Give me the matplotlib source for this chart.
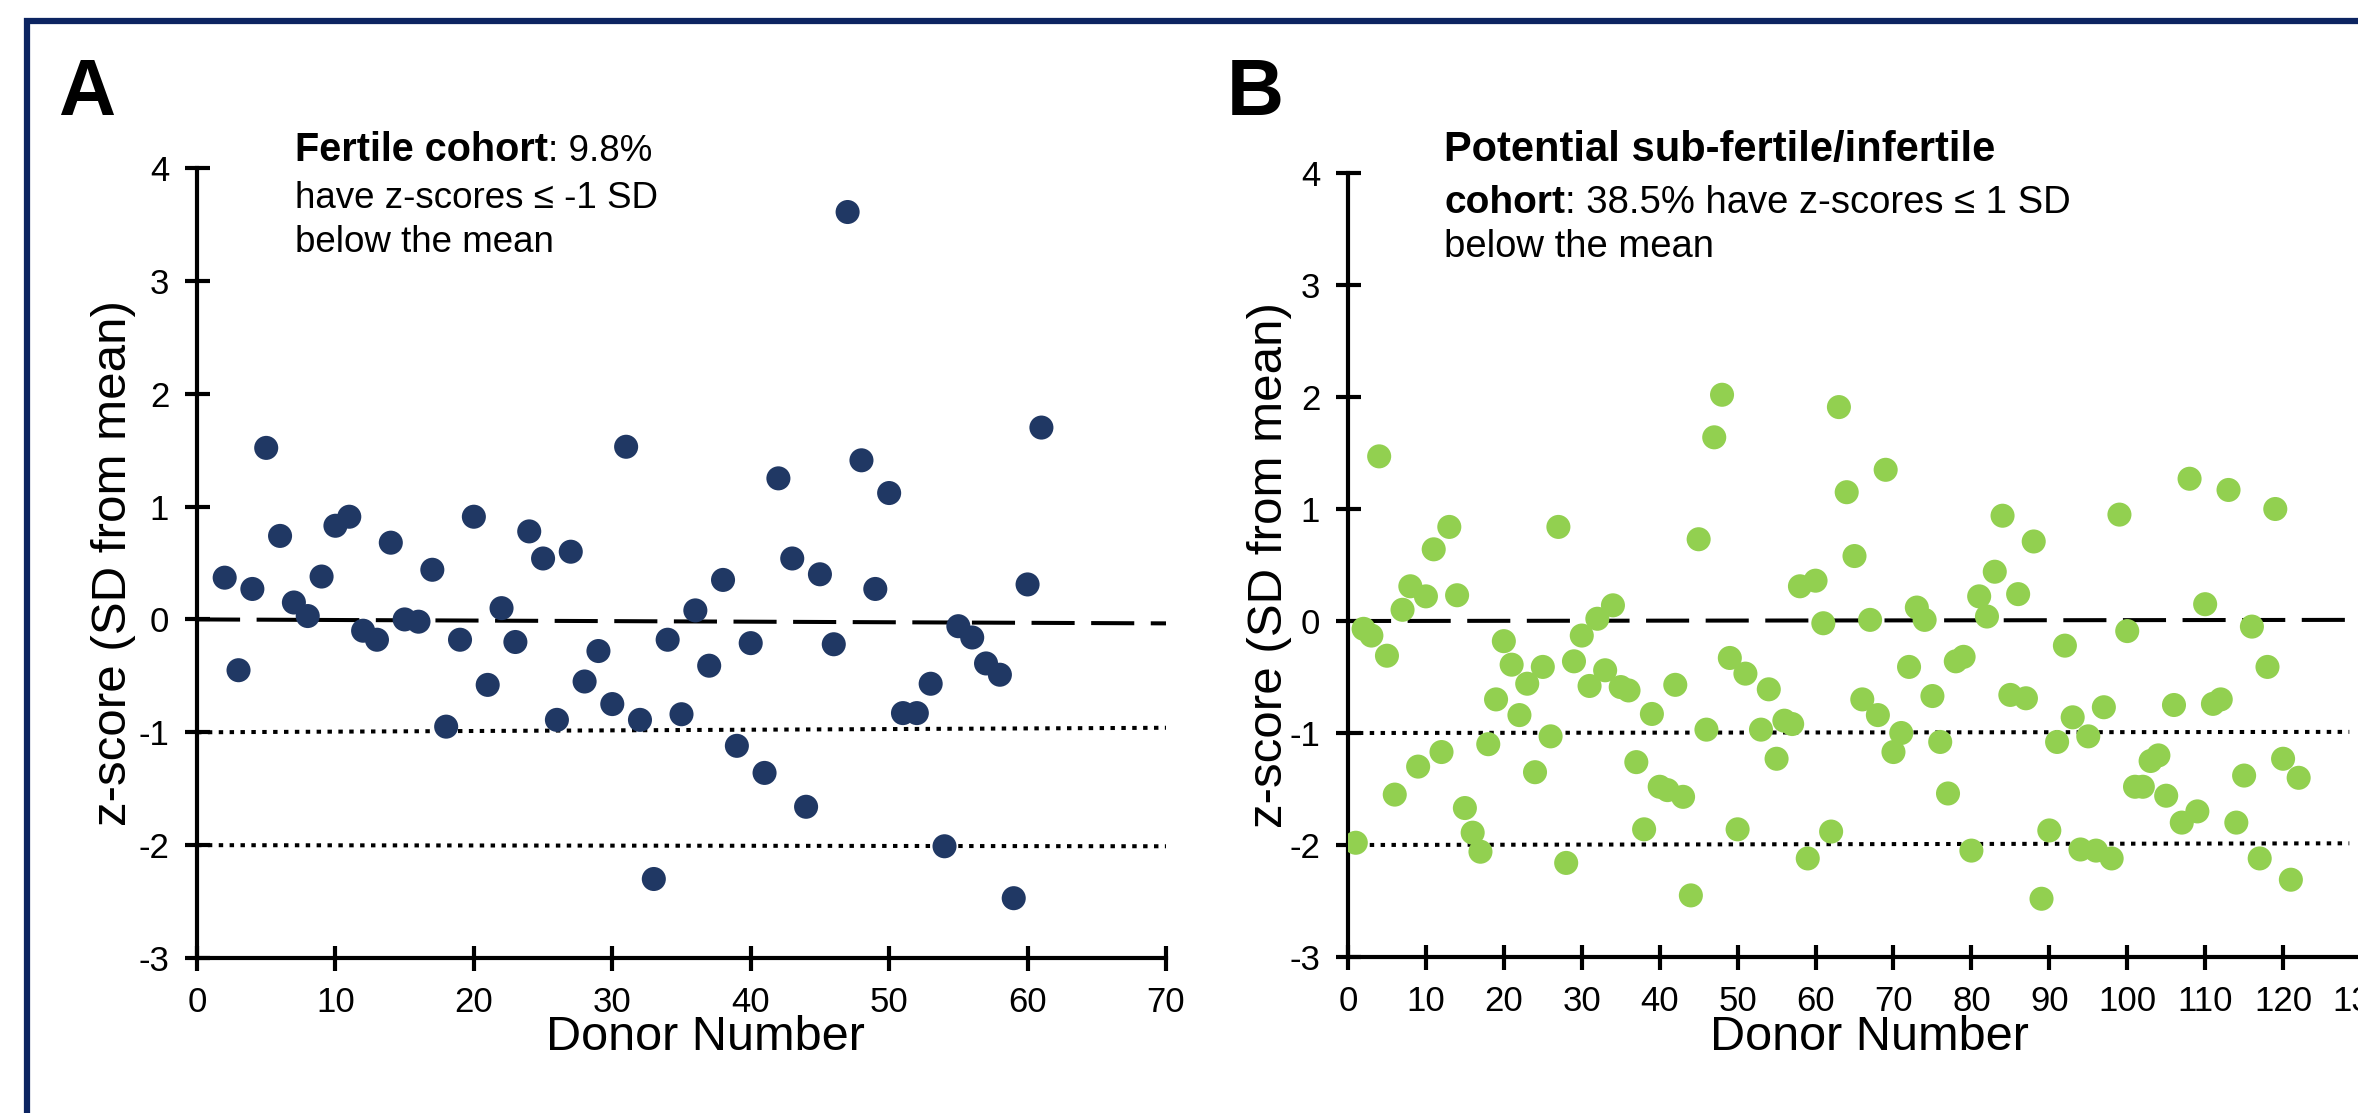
import matplotlib
matplotlib.use("Agg")
import matplotlib.pyplot as plt
import matplotlib.transforms as mtransforms
from matplotlib.patches import Rectangle

plt.rcParams['font.family'] = ['Liberation Sans', 'DejaVu Sans']
plt.rcParams['axes.unicode_minus'] = False

# Panel A: fertile cohort, donors 2..61
donors_a = list(range(2, 62))
z_a = [0.37, -0.45, 0.27, 1.52, 0.74, 0.15, 0.03, 0.38, 0.83, 0.91,
       -0.10, -0.18, 0.68, 0.00, -0.02, 0.44, -0.95, -0.18, 0.91, -0.58,
       0.10, -0.20, 0.78, 0.54, -0.89, 0.60, -0.55, -0.28, -0.75, 1.53,
       -0.89, -2.30, -0.18, -0.84, 0.08, -0.41, 0.35, -1.12, -0.21, -1.36,
       1.25, 0.54, -1.66, 0.40, -0.22, 3.61, 1.41, 0.27, 1.12, -0.83,
       -0.83, -0.57, -2.01, -0.06, -0.16, -0.39, -0.49, -2.47, 0.31, 1.70]

# Panel B: potential sub-fertile/infertile cohort, donors 1..122 (no 52 visible)
donors_b = list(range(1, 52)) + list(range(53, 123))
z_b = [-1.98, -0.07, -0.13, 1.47, -0.31, -1.55, 0.10, 0.31, -1.30, 0.22,
       0.64, -1.17, 0.84, 0.23, -1.67, -1.89, -2.06, -1.10, -0.70, -0.18,
       -0.39, -0.84, -0.56, -1.35, -0.41, -1.03, 0.84, -2.16, -0.36, -0.13,
       -0.58, 0.02, -0.44, 0.14, -0.59, -0.62, -1.26, -1.86, -0.83, -1.48,
       -1.51, -0.57, -1.57, -2.45, 0.73, -0.97, 1.64, 2.02, -0.33, -1.86,
       -0.47, -0.97, -0.61, -1.23, -0.89, -0.92, 0.31, -2.12, 0.36,
       -0.02, -1.88, 1.91, 1.15, 0.58, -0.70, 0.01, -0.84, 1.35, -1.17,
       -1.00, -0.41, 0.12, 0.01, -0.67, -1.08, -1.54, -0.36, -0.32, -2.05,
       0.22, 0.04, 0.44, 0.94, -0.66, 0.24, -0.69, 0.71, -2.48, -1.87,
       -1.08, -0.22, -0.86, -2.04, -1.03, -2.05, -0.77, -2.12, 0.95, -0.09,
       -1.48, -1.48, -1.25, -1.20, -1.56, -0.75, -1.80, 1.27, -1.70, 0.15,
       -0.74, -0.70, 1.17, -1.80, -1.38, -0.05, -2.12, -0.41, 1.00, -1.23,
       -2.31, -1.40]

# reference lines (start/end values): mean, -1 SD, -2 SD
mean_a, sd1_a, sd2_a = [0.0, -0.035], [-1.0, -0.96], [-2.0, -2.01]
mean_b, sd1_b, sd2_b = [0.0, 0.01], [-1.0, -0.99], [-2.0, -1.985]

yticks = [-3, -2, -1, 0, 1, 2, 3, 4]
xticks_a = list(range(0, 80, 10))
xticks_b = list(range(0, 140, 10))

W, H = 2358, 1113
navy = '#0c2461'
col_a = '#203864'
col_b = '#92d050'


def fx(px):
    return px / W


def fy(py):
    return 1 - py / H


fig = plt.figure(figsize=(W / 100, H / 100), dpi=100)

ax_a = fig.add_axes([fx(197), fy(958), (1166 - 197) / W, (958 - 168) / H])
ax_b = fig.add_axes([fx(1348), fy(957), (2361 - 1348) / W, (957 - 173) / H])


def style(ax, xmax, xticks, ylab_x, xlab_x, xlab_y):
    ax.set_xlim(0, xmax)
    ax.set_ylim(-3, 4)
    ax.set_xticks(xticks)
    ax.set_yticks(yticks)
    for s in ['top', 'right']:
        ax.spines[s].set_visible(False)
    for s in ['left', 'bottom']:
        ax.spines[s].set_linewidth(3)
    ax.tick_params(direction='inout', length=18, width=3, labelsize=25, pad=11)
    ax.set_xlabel('Donor Number', fontsize=35, va='center')
    ax.set_ylabel('z-score (SD from mean)', fontsize=35.5, va='center')
    ax.xaxis.set_label_coords(xlab_x, xlab_y)
    ax.yaxis.set_label_coords(ylab_x, 0.5)


def ref_lines(ax, xmax, mean, sd1, sd2):
    ax.plot([0, xmax], mean, color='black', lw=2.9, dashes=(10.7, 4.1))
    ax.plot([0, xmax], sd1, color='black', lw=2.9, dashes=(1.1, 1.6))
    ax.plot([0, xmax], sd2, color='black', lw=2.9, dashes=(1.1, 1.6))


style(ax_a, 70, xticks_a, -0.0857, 0.525, -0.101)
ref_lines(ax_a, 70, mean_a, sd1_a, sd2_a)
ax_a.scatter(donors_a, z_a, s=300, color=col_a, edgecolors='none', zorder=3)

style(ax_b, 130, xticks_b, -0.077, 0.515, -0.103)
ref_lines(ax_b, 128.5, mean_b, sd1_b, sd2_b)
ax_b.scatter(donors_b, z_b, s=300, color=col_b, edgecolors='none', zorder=3)

# panel letters
fig.text(fx(58), fy(115), 'A', fontsize=57, weight='bold', va='baseline')
fig.text(fx(1227), fy(115), 'B', fontsize=57, weight='bold', va='baseline')

renderer = fig.canvas.get_renderer()


def mixed_line(x, y, bold, rest, bsize, rsize):
    t = fig.text(fx(x), fy(y), bold, fontsize=bsize, weight='bold', va='baseline')
    bb = t.get_window_extent(renderer)
    # place the regular part on the same baseline, right after the bold part
    fig.text(bb.x1 / fig.bbox.width, fy(y), rest, fontsize=rsize, va='baseline', ha='left')


# annotations
mixed_line(295, 161, 'Fertile cohort', ': 9.8%', 28.5, 26.5)
fig.text(fx(295), fy(208), 'have z-scores \u2264 -1 SD', fontsize=26.5, va='baseline')
fig.text(fx(295), fy(252), 'below the mean', fontsize=26.5, va='baseline')

fig.text(fx(1444), fy(161), 'Potential sub-fertile/infertile', fontsize=30,
         weight='bold', va='baseline')
mixed_line(1444, 213, 'cohort', ': 38.5% have z-scores \u2264 1 SD', 28, 27.5)
fig.text(fx(1444), fy(257), 'below the mean', fontsize=27.5, va='baseline')

# outer frame
fig.patches.append(Rectangle((fx(27), -0.1), 1.2, fy(21) + 0.1, transform=fig.transFigure,
                             fill=False, edgecolor=navy, lw=4.5))

fig.savefig('out.png', dpi=100)
